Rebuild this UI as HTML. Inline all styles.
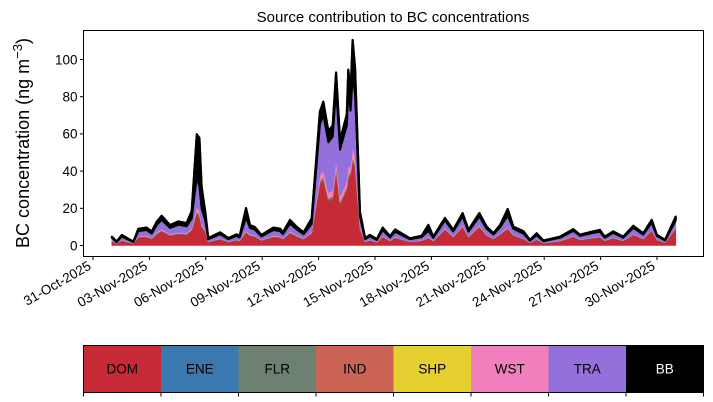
<!DOCTYPE html>
<html><head><meta charset="utf-8"><style>
html,body{margin:0;padding:0;background:#fff;}
svg{display:block;font-family:"Liberation Sans","DejaVu Sans",sans-serif;}
</style></head><body>
<svg id="chart" width="713" height="402" viewBox="0 0 713 402" xmlns="http://www.w3.org/2000/svg"></svg>
<script>
const days = [1.0,1.26,1.53,2.15,2.41,2.85,3.12,3.39,3.65,4.1,4.54,4.98,5.25,5.52,5.66,5.78,5.97,6.13,6.76,7.2,7.64,7.8,8.14,8.35,8.6,8.96,9.59,9.95,10.1,10.48,10.84,11.2,11.63,12.07,12.25,12.52,12.75,12.93,13.14,13.5,13.58,13.7,13.81,13.94,14.2,14.47,14.73,15.1,15.41,15.8,16.07,16.86,17.48,17.84,18.1,18.72,19.16,19.66,19.97,20.55,20.94,21.3,21.66,22.06,22.36,22.9,23.24,23.6,23.96,24.84,25.55,25.9,26.6,26.96,27.22,27.67,28.2,28.74,29.27,29.72,29.99,30.43,31.0];
const dom = [2.3,1.0,2.7,1.0,4.3,4.6,3.6,6.1,7.7,5.3,6.2,5.8,8,17,15,10,7.5,1.9,3.4,1.9,2.9,2.4,7,5.3,4.8,2.7,4.6,4.3,3.4,6.6,4.8,3.4,6.5,33,35,24,25,40,22,30,36,38,45,42,8.6,1.9,2.7,1.7,4.6,2.4,4.1,1.9,2.5,4,2.3,8.5,4.5,10,4.5,10,5.4,3.5,6,9,5.4,3.5,1.5,3.1,1.3,2.3,4.7,3,4,4.5,2.5,4,2.5,5.7,3.5,8,3,1.6,9];
const ene = [0.05,0.02,0.05,0.02,0.1,0.1,0.07,0.13,0.16,0.1,0.13,0.12,0.2,0.5,0.5,0.2,0.15,0.03,0.07,0.03,0.06,0.05,0.1,0.1,0.1,0.06,0.1,0.09,0.07,0.14,0.1,0.07,0.1,0.5,0.5,0.4,0.4,0.5,0.4,0.4,0.5,0.4,0.6,0.5,0.2,0.03,0.06,0.03,0.1,0.05,0.09,0.03,0.05,0.1,0.05,0.1,0.07,0.1,0.07,0.1,0.07,0.05,0.07,0.1,0.07,0.05,0.02,0.05,0.02,0.05,0.06,0.04,0.05,0.05,0.03,0.05,0.03,0.06,0.04,0.06,0.04,0.02,0.06];
const flr = ene.slice();
const ind = [0.1,0.05,0.1,0.05,0.15,0.15,0.1,0.2,0.25,0.15,0.2,0.2,0.3,0.8,0.8,0.4,0.25,0.05,0.1,0.05,0.1,0.07,0.3,0.15,0.15,0.1,0.15,0.15,0.1,0.2,0.15,0.1,0.2,1,1,0.8,0.8,1,0.8,0.8,1,0.8,1.2,1,0.3,0.05,0.1,0.05,0.15,0.07,0.13,0.05,0.08,0.15,0.1,0.2,0.1,0.2,0.1,0.2,0.1,0.08,0.1,0.2,0.1,0.08,0.04,0.08,0.03,0.1,0.1,0.06,0.08,0.08,0.05,0.08,0.05,0.1,0.06,0.1,0.06,0.03,0.1];
const shp = ene.slice();
const wst = [0.2,0.1,0.2,0.1,0.3,0.35,0.3,0.45,0.55,0.4,0.45,0.4,0.6,1.5,1.5,0.8,0.5,0.15,0.25,0.15,0.2,0.2,0.5,0.4,0.35,0.2,0.35,0.3,0.25,0.5,0.35,0.25,0.5,2.5,2.8,2.5,2.5,3.5,2.5,2.5,4,2.5,4.5,4,0.6,0.15,0.2,0.12,0.35,0.2,0.3,0.14,0.2,0.4,0.2,0.5,0.3,0.6,0.3,0.6,0.3,0.2,0.4,0.6,0.3,0.2,0.1,0.2,0.08,0.2,0.3,0.2,0.25,0.25,0.15,0.25,0.15,0.3,0.2,0.3,0.2,0.1,0.3];
const tra = [1.4,0.6,1.7,0.6,2.7,2.9,2.2,3.8,4.8,3.3,3.9,3.6,5,16,13,8,5,1.2,2.1,1.2,1.8,1.5,7,3.3,3,1.7,2.9,2.7,2.1,4.1,3,2.1,4,27,30,27,29,38,25,30,40,30,38,33,5.4,1.2,1.7,1.0,2.9,1.5,2.6,1.2,1.6,3,1.4,4,2.4,4.5,2.4,4.5,3,2,3.2,6,3,2.4,0.9,2,0.8,1.4,2.6,1.8,2.3,2.5,1.4,2.3,1.4,3.2,2,3.7,1.8,0.9,4];
const bb = [0.6,0.3,0.8,0.3,1.2,1.3,1.1,1.8,2.2,1.5,1.8,1.7,4,23,26,11.5,4.5,0.6,1.0,0.6,0.8,0.7,5,1.5,1.4,0.8,1.3,1.3,1.0,1.9,1.4,1.0,3,7,7,6,6,9,5,6,12,9,20,14,2.5,0.6,0.8,0.5,1.3,0.7,1.2,0.5,0.7,3.2,0.6,1.3,0.9,1.8,0.9,1.8,1.1,0.7,1.2,3.5,1.1,1.3,0.4,1,0.35,0.6,0.9,0.6,0.8,0.9,0.5,0.8,0.5,1.1,0.7,1.5,0.6,0.35,2];
const seriesNames = ["DOM","ENE","FLR","IND","SHP","WST","TRA","BB"];
const seriesColors = ["#c52a36","#3a78b0","#6e8070","#cc6455","#e6d02f","#f280be","#9370db","#000000"];
const xTickDays = [0,3,6,9,12,15,18,21,24,27,30];
const xTickLabels = ["31-Oct-2025","03-Nov-2025","06-Nov-2025","09-Nov-2025","12-Nov-2025","15-Nov-2025","18-Nov-2025","21-Nov-2025","24-Nov-2025","27-Nov-2025","30-Nov-2025"];
const yTicks = [0,20,40,60,80,100];

const svg = document.getElementById('chart');
const NS = 'http://www.w3.org/2000/svg';
function mk(tag, attrs, parent){const e=document.createElementNS(NS,tag);for(const k in attrs)e.setAttribute(k,attrs[k]);(parent||svg).appendChild(e);return e;}
const L=83.5,R=703.5,T=30.5,B=256.5;
function xs(d){return 93 + d*18.8;}
function ys(v){return 245.5 - v*1.86;}

const title = mk('text',{x:393,y:22,'text-anchor':'middle','font-size':15,fill:'#000'});
title.textContent='Source contribution to BC concentrations';



const series=[dom,ene,flr,ind,shp,wst,tra,bb];
let base=days.map(()=>0);
const gArea = mk('g',{});


series.forEach((s,si)=>{
  const top=base.map((b,i)=>b+s[i]);
  let d='M'+days.map((dd,i)=>xs(dd).toFixed(2)+','+ys(top[i]).toFixed(2)).join('L');
  for(let i=days.length-1;i>=0;i--) d+='L'+xs(days[i]).toFixed(2)+','+ys(base[i]).toFixed(2);
  d+='Z';
  const p=mk('path',{d:d,fill:seriesColors[si],stroke:seriesColors[si],'stroke-width':si===7?2:0.6,'stroke-linejoin':'round'},gArea);
  
  
  base=top;
});
const totalLine = mk('polyline',{points:days.map((dd,i)=>xs(dd).toFixed(2)+','+ys(base[i]).toFixed(2)).join(' '),fill:'none',stroke:'#000','stroke-width':2.2,'stroke-linejoin':'round'});



const frame = mk('rect',{x:L,y:T,width:R-L,height:B-T,fill:'none',stroke:'#000','stroke-width':1});



yTicks.forEach(v=>{
  const y=ys(v);
  mk('line',{x1:L-3.5,x2:L,y1:y,y2:y,stroke:'#000','stroke-width':1});
  const t=mk('text',{x:L-6,y:y+4.8,'text-anchor':'end','font-size':13.5,fill:'#000'});
  t.textContent=v;
  
  
});
xTickDays.forEach((d,i)=>{
  const x=xs(d);
  mk('line',{x1:x,x2:x,y1:B,y2:B+3.5,stroke:'#000','stroke-width':1});
  const t=mk('text',{x:0,y:0,'text-anchor':'end','font-size':13.5,fill:'#000',transform:'translate('+(x-1)+','+(B+12)+') rotate(-30)'});
  t.textContent=xTickLabels[i];
  
  
});
const yt=mk('text',{x:0,y:0,'text-anchor':'middle','font-size':18,fill:'#000',transform:'translate(29,143) rotate(-90)'});
yt.innerHTML='BC concentration (ng m<tspan dy="-7" font-size="13">−3</tspan><tspan dy="7">)</tspan>';



const lg = mk('g',{});


const cw=(R-L)/8;
seriesNames.forEach((n,i)=>{
  const x=L+i*cw;
  const r=mk('rect',{x:x,y:345.5,width:cw,height:47,fill:seriesColors[i]},lg);
  
  
  const t=mk('text',{x:x+cw/2,y:373.5,'text-anchor':'middle','font-size':13.5,fill:i===7?'#fff':'#000'},lg);
  t.textContent=n;
  
  
});
for(let i=0;i<=8;i++){const x=L+i*cw;mk('line',{x1:x,x2:x,y1:392.5,y2:396.5,stroke:'#000','stroke-width':1},lg);}
mk('rect',{x:L,y:345.5,width:R-L,height:47,fill:'none',stroke:'#000','stroke-width':1},lg);
</script>
</body></html>
